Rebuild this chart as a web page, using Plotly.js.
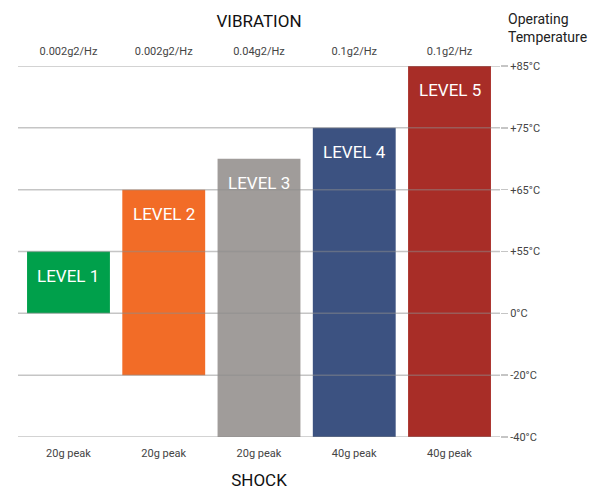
<!DOCTYPE html>
<html>
<head>
<meta charset="utf-8">
<script src="https://cdn.plot.ly/plotly-3.0.1.min.js"></script>
<style>html,body{margin:0;padding:0;background:#fff;}#chart{width:591px;height:490px;}</style>
</head>
<body>
<div id="chart"></div>
<script>
// ---- data ----
const levels = ["LEVEL 1", "LEVEL 2", "LEVEL 3", "LEVEL 4", "LEVEL 5"];
const vibration = ["0.002g2/Hz", "0.002g2/Hz", "0.04g2/Hz", "0.1g2/Hz", "0.1g2/Hz"];
const shock = ["20g peak", "20g peak", "20g peak", "40g peak", "40g peak"];
const tempLow = [0, -20, -40, -40, -40];
const tempHigh = [55, 65, 70, 75, 85];
const tempTicks = [-40, -20, 0, 55, 65, 75, 85];
const tempTickText = ["-40°C", "-20°C", "0°C", "+55°C", "+65°C", "+75°C", "+85°C"];
const colors = ["#00A04B", "#F26C27", "#A09C9A", "#3C5281", "#A82D27"];

// temperature -> evenly spaced tick scale position
function pos(t) {
  for (let i = 0; i < tempTicks.length - 1; i++) {
    const a = tempTicks[i], b = tempTicks[i + 1];
    if (t >= a && t <= b) return i + (t - a) / (b - a);
  }
  return t < tempTicks[0] ? 0 : tempTicks.length - 1;
}

const idx = levels.map((_, i) => i);
const base = tempLow.map(pos);
const heights = tempHigh.map((h, i) => pos(h) - base[i]);

const trace = {
  type: "bar",
  x: idx,
  y: heights,
  base: base,
  marker: {color: colors, line: {width: 0}},
  hoverinfo: "skip",
  showlegend: false
};
const dummyTop = {
  type: "scatter", x: idx, y: base, xaxis: "x2", mode: "none",
  hoverinfo: "skip", showlegend: false
};

const gridShapes = tempTicks.map((t, i) => ({
  type: "line", xref: "paper", yref: "y",
  x0: 0, x1: 1, y0: pos(t), y1: pos(t),
  line: {color: "rgba(140,140,140,0.5)", width: 1.5},
  layer: "above"
}));

const labelAnn = levels.map((l, i) => ({
  x: i, y: pos(tempHigh[i]), xref: "x", yref: "y",
  text: l, showarrow: false, yanchor: "middle", yshift: -24,
  font: {family: "Roboto, sans-serif", size: 17, color: "#ffffff"}
}));

const layout = {
  width: 591, height: 490,
  margin: {l: 18, r: 91, t: 66, b: 53},
  paper_bgcolor: "#fff", plot_bgcolor: "#fff",
  font: {family: "Roboto, sans-serif", color: "#444"},
  bargap: 0.13,
  xaxis: {
    range: [-0.53, 4.53], tickmode: "array", tickvals: idx, ticktext: shock,
    showgrid: false, zeroline: false, showline: false,
    ticks: "outside", ticklen: 6, tickcolor: "rgba(0,0,0,0)",
    tickfont: {size: 11, color: "#444"},
    title: {text: "SHOCK", font: {size: 17, color: "#111"}, standoff: 15}
  },
  xaxis2: {
    overlaying: "x", side: "top", matches: "x",
    range: [-0.53, 4.53], tickmode: "array", tickvals: idx, ticktext: vibration,
    showgrid: false, zeroline: false, showline: false,
    ticks: "outside", ticklen: 6, tickcolor: "rgba(0,0,0,0)",
    tickfont: {size: 11, color: "#444"},
    title: {text: "VIBRATION", font: {size: 17, color: "#111"}, standoff: 12}
  },
  yaxis: {
    range: [0, tempTicks.length - 1], side: "right",
    tickmode: "array", tickvals: tempTicks.map(pos), ticktext: tempTickText,
    showgrid: false, zeroline: false, showline: false,
    ticks: "outside", ticklen: 7, tickwidth: 1.5, tickcolor: "rgba(140,140,140,0.5)",
    tickfont: {size: 11, color: "#444"}
  },
  shapes: gridShapes,
  annotations: labelAnn.concat([{
    xref: "paper", yref: "paper", x: 1.012, y: 1.0, xanchor: "left", yanchor: "bottom",
    yshift: 19, align: "left", showarrow: false,
    text: "Operating<br>Temperature",
    font: {family: "Roboto, sans-serif", size: 14, color: "#222"}
  }])
};

Plotly.newPlot("chart", [trace, dummyTop], layout, {displayModeBar: false, staticPlot: true});
</script>
</body>
</html>
